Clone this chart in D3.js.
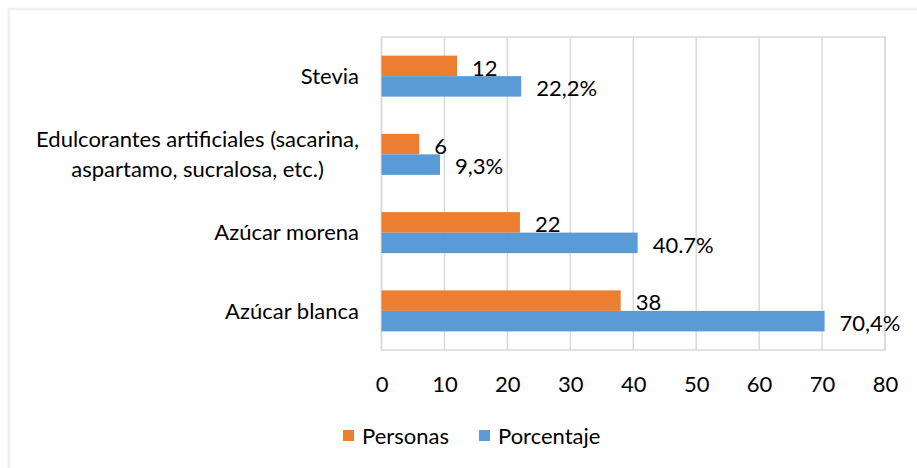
<!DOCTYPE html>
<html lang="es">
<head>
<meta charset="UTF-8">
<script src="https://d3js.org/d3.v7.min.js"></script>
<style>
body{
	margin: 0;
	background: #ffffff;
	font-family: "Lato", sans-serif;
}
svg text{
	fill: #000000;
	font-size: 22px;
}
</style>
</head>
<body>
<svg id="chart"></svg>
<script>
// categories from top to bottom
var categories = ["Stevia", "Edulcorantes artificiales (sacarina,|aspartamo, sucralosa, etc.)", "Azúcar morena", "Azúcar blanca"];
var personas = [12, 6, 22, 38];
var porcentaje = [22.2, 9.3, 40.7, 70.4];
var porcentajeLabels = ["22,2%", "9,3%", "40.7%", "70,4%"];
var series = ["Personas", "Porcentaje"];
var colors = ["#ed7d31", "#5b9bd5"];
var xTicks = [0, 10, 20, 30, 40, 50, 60, 70, 80];

var W = 917, H = 468;
var plotLeft = 381.5, plotRight = 885, plotTop = 37, plotBottom = 350;

var svg = d3.select("#chart")
	.attr("width", W)
	.attr("height", H);

// outer chart frame
svg.append("rect")
	.attr("x", 9).attr("y", 9)
	.attr("width", 1000).attr("height", 1000)
	.attr("fill", "none")
	.attr("stroke", "#f0f0f0")
	.attr("stroke-width", 2.5);

var x = d3.scaleLinear().domain([0, 80]).range([plotLeft, plotRight]);
var y = d3.scaleBand().domain(categories).range([plotTop, plotBottom]);
var barH = 20.5;
var ySub = d3.scaleBand().domain(series)
	.range([y.bandwidth()/2 - barH, y.bandwidth()/2 + barH]);

// gridlines
svg.append("g")
	.selectAll("line")
	.data(xTicks)
	.join("line")
	.attr("x1", function(d){ return x(d); })
	.attr("x2", function(d){ return x(d); })
	.attr("y1", plotTop).attr("y2", plotBottom)
	.attr("stroke", "#d9d9d9")
	.attr("stroke-width", 1.5);

// plot frame
svg.append("rect")
	.attr("x", plotLeft).attr("y", plotTop)
	.attr("width", plotRight - plotLeft).attr("height", plotBottom - plotTop)
	.attr("fill", "none")
	.attr("stroke", "#d9d9d9")
	.attr("stroke-width", 1.5);

// x tick labels
var xAxis = svg.append("g")
	.attr("transform", "translate(0," + (plotBottom + 18) + ")")
	.call(d3.axisBottom(x).tickValues(xTicks).tickSize(0).tickPadding(8).tickFormat(d3.format("d")));
xAxis.select(".domain").remove();
xAxis.selectAll("text")
	.attr("font-family", "Lato, sans-serif")
	.attr("font-size", "22px")
	.attr("fill", "#000");

var seriesData = [personas, porcentaje];

// bars
series.forEach(function(s, si){
	svg.append("g")
		.selectAll("rect")
		.data(seriesData[si])
		.join("rect")
		.attr("x", x(0))
		.attr("y", function(d, i){ return y(categories[i]) + ySub(s); })
		.attr("width", function(d){ return x(d) - x(0); })
		.attr("height", ySub.bandwidth())
		.attr("fill", colors[si]);
});

// value labels
svg.append("g")
	.selectAll("text")
	.data(personas)
	.join("text")
	.attr("x", function(d){ return x(d) + 15; })
	.attr("y", function(d, i){ return y(categories[i]) + ySub("Personas") + ySub.bandwidth()/2 + 2; })
	.attr("dy", "0.35em")
	.text(function(d){ return d; });

svg.append("g")
	.selectAll("text")
	.data(porcentaje)
	.join("text")
	.attr("x", function(d){ return x(d) + 15; })
	.attr("y", function(d, i){ return y(categories[i]) + ySub("Porcentaje") + ySub.bandwidth()/2 + 2; })
	.attr("dy", "0.35em")
	.text(function(d, i){ return porcentajeLabels[i]; });

// category labels, wrapped lines centred within a right aligned block
var catG = svg.append("g");
categories.forEach(function(c){
	var lines = c.split("|");
	var cy = y(c) + y.bandwidth()/2;
	var lineH = 30;
	var texts = lines.map(function(l, li){
		return catG.append("text")
			.attr("y", cy + (li - (lines.length - 1)/2) * lineH)
			.attr("dy", "0.35em")
			.attr("text-anchor", "middle")
			.text(l);
	});
	var maxW = d3.max(texts, function(t){ return t.node().getComputedTextLength(); });
	texts.forEach(function(t){ t.attr("x", 359 - maxW/2); });
});

// legend
var legend = svg.append("g");
var legX = [343, 479];
series.forEach(function(s, si){
	legend.append("rect")
		.attr("x", legX[si]).attr("y", 430)
		.attr("width", 11).attr("height", 11)
		.attr("fill", colors[si]);
	legend.append("text")
		.attr("x", legX[si] + 19)
		.attr("y", 436)
		.attr("dy", "0.35em")
		.text(s);
});
</script>
</body>
</html>
